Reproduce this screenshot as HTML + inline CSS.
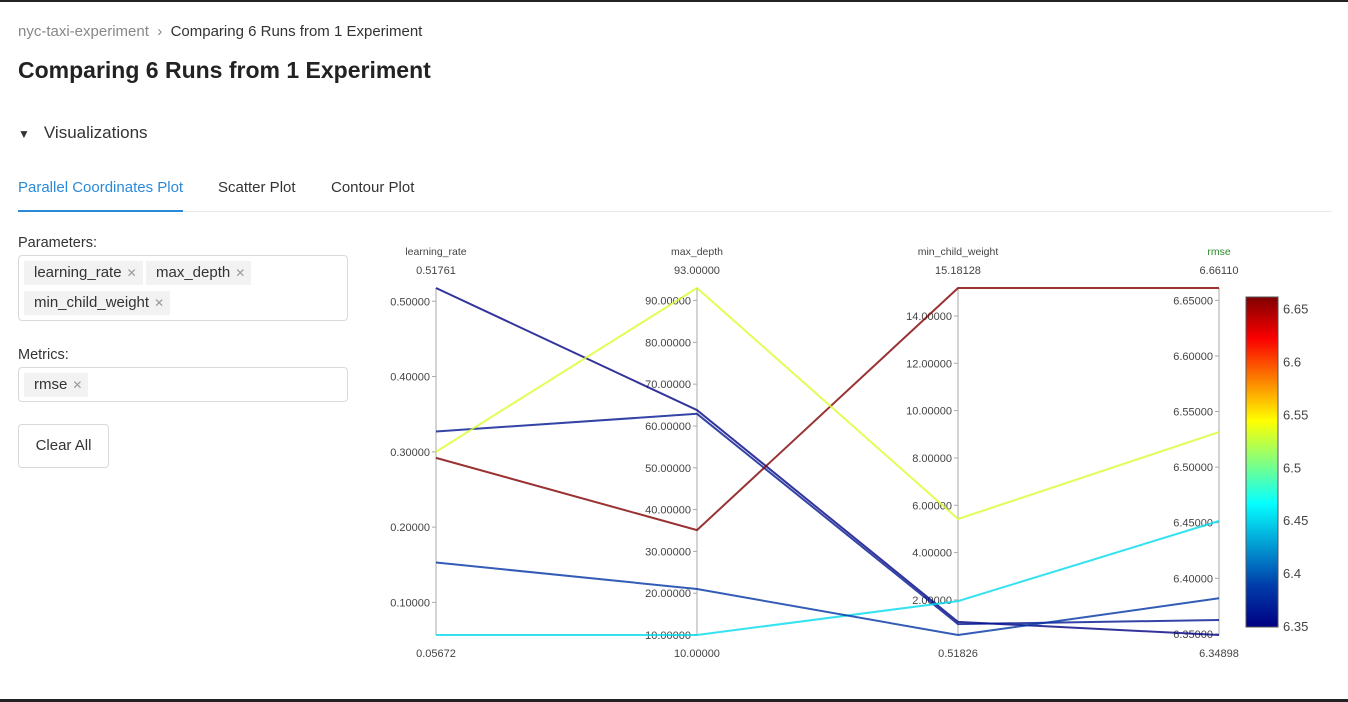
<!DOCTYPE html>
<html><head><meta charset="utf-8">
<style>
body{margin:0;width:1348px;height:702px;overflow:hidden;background:#fff;font-family:"Liberation Sans",sans-serif;color:#333;position:relative}
.topbar{position:absolute;left:0;top:0;width:1348px;height:2px;background:#222}
.botbar{position:absolute;left:0;top:699px;width:1348px;height:3px;background:#222}
.crumb{position:absolute;left:18px;top:23px;font-size:15px;color:#888}
.crumb span{color:#333}
h1{position:absolute;left:18px;top:57px;margin:0;font-size:23px;font-weight:bold;color:#222}
.vis{position:absolute;left:18px;top:123px;font-size:17px;color:#333}
.tabs{position:absolute;left:18px;top:179px;font-size:15px}
.tab{position:absolute;white-space:nowrap}
.tabline{position:absolute;left:18px;top:211px;width:1314px;height:1px;background:#e8e8e8}
.tabsel{position:absolute;left:18px;top:210px;width:165px;height:2px;background:#2b8ad8}
.lbl{position:absolute;left:18px;font-size:14.5px;color:#333}
.box{position:absolute;left:18px;width:328px;border:1px solid #d9d9d9;border-radius:4px}
.tag{position:absolute;height:24px;line-height:24px;background:#f2f2f2;font-size:15px;padding:0 0 0 10px;color:#333;white-space:nowrap}
.tag i{font-style:normal;color:#999;font-size:12px;margin:0 6px 0 5px}
.btn{position:absolute;left:18px;top:424px;width:89px;height:42px;border:1px solid #d9d9d9;border-radius:4px;font-size:15px;line-height:42px;text-align:center}
</style></head><body>
<div class="topbar"></div>
<div class="crumb"><span style="color:#888">nyc-taxi-experiment</span> &nbsp;›&nbsp; <span>Comparing 6 Runs from 1 Experiment</span></div>
<h1>Comparing 6 Runs from 1 Experiment</h1>
<div class="vis"><span style="font-size:12px;margin-right:14px">▼</span>Visualizations</div>
<div class="tabs">
<div class="tab" style="left:0;color:#2b8ad8">Parallel Coordinates Plot</div>
<div class="tab" style="left:200px">Scatter Plot</div>
<div class="tab" style="left:313px">Contour Plot</div>
</div>
<div class="tabline"></div>
<div class="tabsel"></div>
<div class="lbl" style="top:235px">Parameters:</div>
<div class="box" style="top:255px;height:64px">
<div class="tag" style="left:5px;top:5px">learning_rate<i>✕</i></div>
<div class="tag" style="left:127px;top:5px">max_depth<i>✕</i></div>
<div class="tag" style="left:5px;top:35px">min_child_weight<i>✕</i></div>
</div>
<div class="lbl" style="top:347px">Metrics:</div>
<div class="box" style="top:367px;height:33px">
<div class="tag" style="left:5px;top:5px">rmse<i>✕</i></div>
</div>
<div class="btn">Clear All</div>
<svg id="chart" width="1348" height="702" style="position:absolute;left:0;top:0"></svg>
<div class="botbar"></div>
<script>
const dims=["learning_rate","max_depth","min_child_weight","rmse"];
const learningRate=[0.5176,0.327,0.292,0.300,0.05672,0.153];
const maxDepth=[63.8,62.9,35.1,93,10,21];
const minChildWeight=[1.07,0.98,15.18,5.42,1.95,0.518];
const rmse=[6.349,6.3625,6.6611,6.5315,6.4515,6.382];
const mins=[0.05672,10,0.51826,6.34898];
const maxs=[0.51761,93,15.18128,6.66110];
const minLabels=["0.05672","10.00000","0.51826","6.34898"];
const maxLabels=["0.51761","93.00000","15.18128","6.66110"];
const ticks=[[0.1,0.2,0.3,0.4,0.5],[10,20,30,40,50,60,70,80,90],[2,4,6,8,10,12,14],[6.35,6.4,6.45,6.5,6.55,6.6,6.65]];
const cbTicks=[6.35,6.4,6.45,6.5,6.55,6.6,6.65];
const NS="http://www.w3.org/2000/svg";
const svg=document.getElementById('chart');
const axX=[436,697,958,1219],yTop=288,yBot=635;
function yS(d,v){return yBot-(v-mins[d])/(maxs[d]-mins[d])*(yBot-yTop);}
const jet=[[0,[0,0,131]],[0.125,[0,60,170]],[0.375,[5,255,255]],[0.625,[255,255,0]],[0.875,[250,0,0]],[1,[128,0,0]]];
function col(t){t=Math.max(0,Math.min(1,t));for(let i=1;i<jet.length;i++){if(t<=jet[i][0]){const a=jet[i-1],b=jet[i],f=(t-a[0])/(b[0]-a[0]);return 'rgb('+a[1].map((c,k)=>Math.round(c+(b[1][k]-c)*f)).join(',')+')';}}return 'rgb(128,0,0)';}
function el(tag,attrs){const e=document.createElementNS(NS,tag);for(const k in attrs)e.setAttribute(k,attrs[k]);svg.appendChild(e);return e;}
function txt(x,y,s,size,fill,anchor){const t=el('text',{x:x,y:y,'font-size':size,fill:fill,'text-anchor':anchor,'font-family':'Liberation Sans, sans-serif'});t.textContent=s;return t;}
const defs=el('defs',{});
const g=document.createElementNS(NS,'linearGradient');g.setAttribute('id','jetg');g.setAttribute('x1','0');g.setAttribute('y1','1');g.setAttribute('x2','0');g.setAttribute('y2','0');
jet.forEach(s=>{const st=document.createElementNS(NS,'stop');st.setAttribute('offset',s[0]);st.setAttribute('stop-color','rgb('+s[1].join(',')+')');g.appendChild(st);});
defs.appendChild(g);
dims.forEach((d,i)=>{
 const a=el('line',{x1:axX[i],x2:axX[i],y1:yTop,y2:yBot,stroke:'#aaa','stroke-width':1});
 
 
 ticks[i].forEach(v=>{const y=yS(i,v);
  const tk=el('line',{x1:axX[i]-4,x2:axX[i],y1:y,y2:y,stroke:'#aaa'});
  
  
  const tl=txt(axX[i]-6,y+4,v.toFixed(5),11,'#444','end');
  
  
 });
 const h=txt(axX[i],255,d,10.5,d==='rmse'?'#2a8a2a':'#444','middle');
 
 
 const mx=txt(axX[i],274,maxLabels[i],11,'#444','middle');
 
 
 const mn=txt(axX[i],657,minLabels[i],11,'#444','middle');
 
 
});
rmse.forEach((rv,r)=>{
 const vals=[learningRate[r],maxDepth[r],minChildWeight[r],rmse[r]];
 const pts=vals.map((v,i)=>axX[i]+','+yS(i,v).toFixed(1)).join(' ');
 const c=col((rmse[r]-6.349)/(6.6611-6.349));
 const p=el('polyline',{points:pts,fill:'none',stroke:c,'stroke-width':2,'stroke-opacity':0.8});
 
 
});
const cbTop=297,cbBot=627,cbX=1246,cbW=32,cbMin=6.349,cbMax=6.6611;
const cb=el('rect',{x:cbX,y:cbTop,width:cbW,height:cbBot-cbTop,fill:'url(#jetg)',stroke:'#555','stroke-width':1});


cbTicks.forEach(v=>{const y=cbBot-(v-cbMin)/(cbMax-cbMin)*(cbBot-cbTop);
 const t=txt(cbX+cbW+5,y+5,String(v),13,'#444','start');
 
 
});
</script>
</body></html>
